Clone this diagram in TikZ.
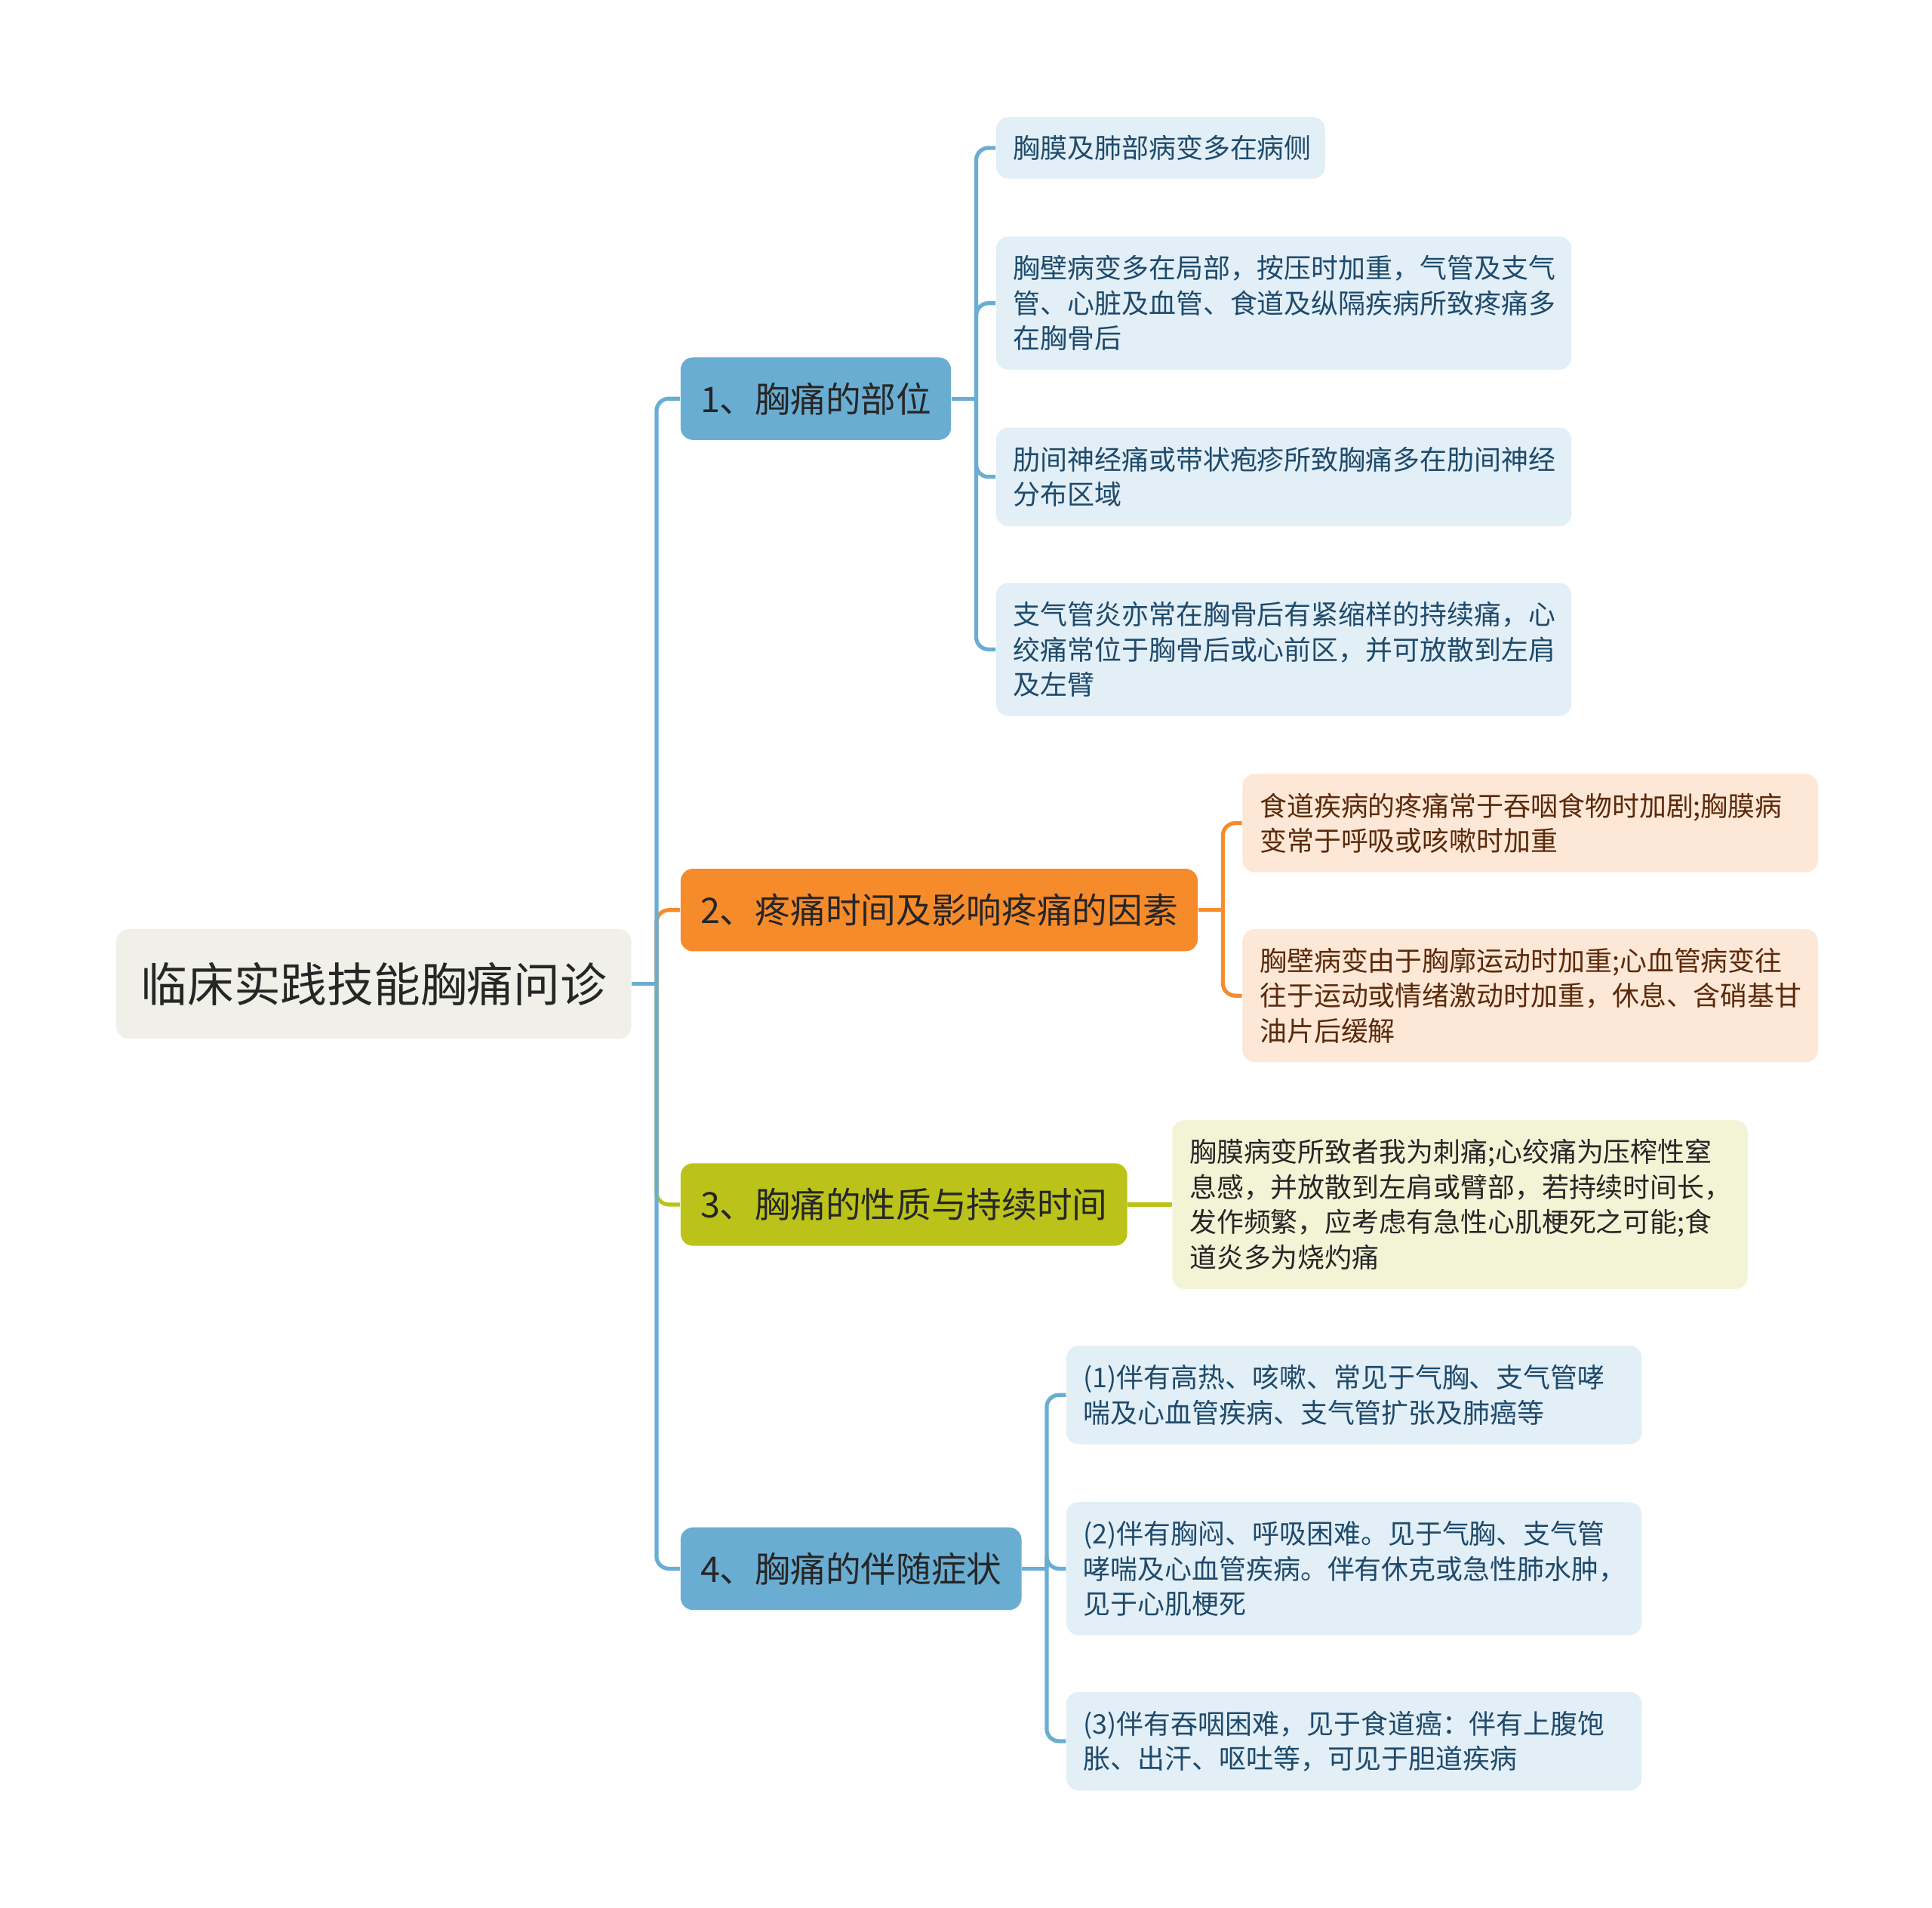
\documentclass[tikz,border=0pt]{standalone}
\usepackage{fontspec}
\setmainfont{Noto Sans CJK SC}
\definecolor{rootfill}{HTML}{F0F0E9}
\definecolor{topicblue}{HTML}{6AADD2}
\definecolor{topicorange}{HTML}{F68B2C}
\definecolor{topicolive}{HTML}{BBC31A}
\definecolor{leafblue}{HTML}{E2EFF7}
\definecolor{leafpeach}{HTML}{FDE7D6}
\definecolor{leafolive}{HTML}{F3F4D6}
\definecolor{textblue}{HTML}{1F4A6B}
\definecolor{textbrown}{HTML}{5B2A0A}
\definecolor{textdark}{HTML}{262626}
\begin{document}
\begin{tikzpicture}[x=0.5pt, y=-0.5pt,
  root/.style={rectangle, rounded corners=5pt, fill=rootfill, text=textdark, anchor=west,
    minimum height=44.5pt, inner xsep=10pt, font=\fontsize{18.9pt}{22pt}\selectfont},
  topic/.style={rectangle, rounded corners=5pt, fill=#1, text=textdark, anchor=west,
    minimum height=33.5pt, inner xsep=8pt, font=\fontsize{14.3pt}{17pt}\selectfont},
  leaf/.style={rectangle, rounded corners=5pt, fill=#1, anchor=west, align=left,
    text width=219.5pt, inner xsep=7pt, font=\fontsize{11pt}{14.25pt}\selectfont},
  link/.style={draw=#1, line width=1.6pt, rounded corners=5pt}]
\useasboundingbox (0,0) rectangle (1568,1548);

\node [root] (root) at (94,798.5) {临床实践技能胸痛问诊};

\node [topic=topicblue] (s1) at (552,323.5) {1、胸痛的部位};
\node [topic=topicorange] (s2) at (552,738.5) {2、疼痛时间及影响疼痛的因素};
\node [topic=topicolive] (s3) at (552,977.5) {3、胸痛的性质与持续时间};
\node [topic=topicblue] (s4) at (552,1273) {4、胸痛的伴随症状};

\node [leaf=leafblue, text=textblue, text width=119.5pt, minimum height=25pt] (p1a) at (808,120)
  {胸膜及肺部病变多在病侧};
\node [leaf=leafblue, text=textblue, minimum height=54pt] (p1b) at (808,246)
  {胸壁病变多在局部，按压时加重，气管及支气\\管、心脏及血管、食道及纵隔疾病所致疼痛多\\在胸骨后};
\node [leaf=leafblue, text=textblue, minimum height=40pt] (p1c) at (808,387)
  {肋间神经痛或带状疱疹所致胸痛多在肋间神经\\分布区域};
\node [leaf=leafblue, text=textblue, minimum height=54pt] (p1d) at (808,527)
  {支气管炎亦常在胸骨后有紧缩样的持续痛，心\\绞痛常位于胸骨后或心前区，并可放散到左肩\\及左臂};

\node [leaf=leafpeach, text=textbrown, minimum height=40pt] (p2a) at (1008,668)
  {食道疾病的疼痛常于吞咽食物时加剧;胸膜病\\变常于呼吸或咳嗽时加重};
\node [leaf=leafpeach, text=textbrown, minimum height=54pt] (p2b) at (1008,808)
  {胸壁病变由于胸廓运动时加重;心血管病变往\\往于运动或情绪激动时加重，休息、含硝基甘\\油片后缓解};

\node [leaf=leafolive, text=textdark, minimum height=68.5pt] (p3a) at (951,977.5)
  {胸膜病变所致者我为刺痛;心绞痛为压榨性窒\\息感，并放散到左肩或臂部，若持续时间长，\\发作频繁，应考虑有急性心肌梗死之可能;食\\道炎多为烧灼痛};

\node [leaf=leafblue, text=textblue, minimum height=40pt] (p4a) at (865,1132)
  {(1)伴有高热、咳嗽、常见于气胸、支气管哮\\喘及心血管疾病、支气管扩张及肺癌等};
\node [leaf=leafblue, text=textblue, minimum height=54pt] (p4b) at (865,1273)
  {(2)伴有胸闷、呼吸困难。见于气胸、支气管\\哮喘及心血管疾病。伴有休克或急性肺水肿，\\见于心肌梗死};
\node [leaf=leafblue, text=textblue, minimum height=40pt] (p4c) at (865,1413)
  {(3)伴有吞咽困难，见于食道癌：伴有上腹饱\\胀、出汗、呕吐等，可见于胆道疾病};

\coordinate (j0) at ([xshift=10pt]root.east);
\coordinate (j1) at ([xshift=10pt]s1.east);
\coordinate (j2) at ([xshift=10pt]s2.east);
\coordinate (j4) at ([xshift=10pt]s4.east);

\draw [link=topicorange] (j0) |- (s2.west);
\draw [link=topicolive] (j0) |- (s3.west);
\draw [link=topicblue] (root.east) -- (j0);
\draw [link=topicblue] (j0) |- (s1.west);
\draw [link=topicblue] (j0) |- (s4.west);

\draw [link=topicblue] (s1.east) -- (j1);
\foreach \leaf in {p1a,p1b,p1c,p1d}
  \draw [link=topicblue] (j1) |- (\leaf.west);

\draw [link=topicorange] (s2.east) -- (j2);
\foreach \leaf in {p2a,p2b}
  \draw [link=topicorange] (j2) |- (\leaf.west);

\draw [link=topicolive] (s3.east) -- (p3a.west);

\draw [link=topicblue] (s4.east) -- (j4);
\foreach \leaf in {p4a,p4b,p4c}
  \draw [link=topicblue] (j4) |- (\leaf.west);
\end{tikzpicture}
\end{document}
